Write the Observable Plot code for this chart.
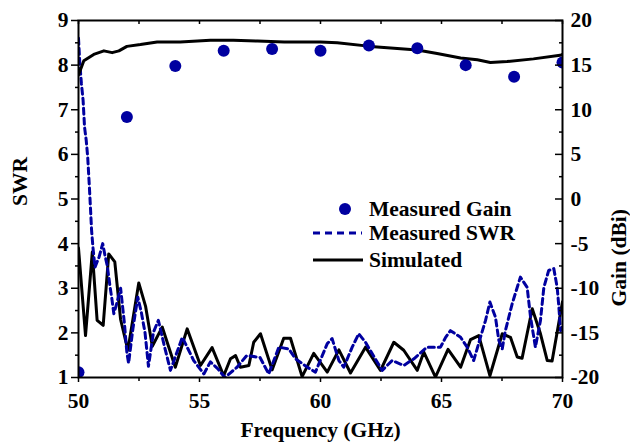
<!DOCTYPE html>
<html><head><meta charset="utf-8">
<script src="https://cdn.jsdelivr.net/npm/d3@7"></script>
<script src="https://cdn.jsdelivr.net/npm/@observablehq/plot@0.6"></script>
<style>
body{margin:0;background:#fff}
#chart svg, #chart svg text{font-family:'Liberation Serif','Times New Roman',serif;font-weight:bold}
</style>
</head><body><div id="chart"></div>
<script>
// Measured gain (dBi, right axis)
const gainMeasFreq = [50, 52, 54, 56, 58, 60, 62, 64, 66, 68, 70];
const gainMeas = [-19.4, 9.2, 14.9, 16.6, 16.8, 16.6, 17.2, 16.9, 15.0, 13.7, 15.3];

// Simulated gain (dBi, right axis)
const simGainFreq = [50.0, 50.22, 50.63, 51.05, 51.39, 51.67, 52.0, 52.56, 53.25, 54.2, 55.45, 56.4, 57.4, 58.5, 59.3, 60.0, 60.69, 62.07, 64.0, 64.82, 65.79, 66.48, 67.02, 67.71, 68.8, 69.9, 70.0];
const simGain = [13.9, 15.5, 16.2, 16.6, 16.4, 16.6, 17.1, 17.3, 17.6, 17.6, 17.8, 17.8, 17.7, 17.6, 17.6, 17.6, 17.5, 17.1, 16.7, 16.3, 15.8, 15.6, 15.3, 15.4, 15.7, 16.1, 16.2];

// Simulated SWR (left axis)
const simSwrFreq = [50.0, 50.29, 50.57, 50.77, 51.02, 51.25, 51.5, 51.74, 52.04, 52.49, 52.77, 53.05, 53.46, 54.0, 54.49, 55.04, 55.52, 56.0, 56.28, 56.49, 56.69, 57.04, 57.24, 57.52, 58.0, 58.48, 58.76, 59.24, 59.72, 60.28, 60.76, 61.24, 61.86, 62.48, 63.03, 63.44, 64.0, 64.27, 64.75, 65.27, 65.79, 66.2, 66.54, 67.0, 67.51, 67.85, 68.13, 68.33, 68.75, 69.09, 69.37, 69.57, 70.0];
const simSwr = [3.9, 1.94, 3.81, 2.28, 2.17, 3.77, 3.59, 2.3, 1.61, 3.12, 2.6, 1.7, 2.13, 1.23, 2.09, 1.27, 1.67, 1.04, 1.42, 1.49, 1.23, 1.27, 1.79, 1.98, 1.17, 1.88, 1.88, 1.02, 1.54, 1.12, 1.62, 1.1, 1.68, 1.16, 1.79, 1.61, 1.16, 1.57, 1.01, 1.63, 1.23, 1.85, 1.94, 1.04, 1.98, 1.9, 1.46, 1.43, 2.54, 1.98, 1.38, 1.37, 2.7];

// Measured SWR (left axis)
const measSwrFreq = [50.0, 50.05, 50.12, 50.19, 50.25, 50.32, 50.38, 50.45, 50.5, 50.54, 50.6, 50.68, 50.85, 51.0, 51.1, 51.19, 51.3, 51.38, 51.46, 51.6, 51.74, 51.9, 52.0, 52.07, 52.25, 52.45, 52.6, 52.75, 52.89, 53.1, 53.3, 53.55, 53.8, 54.29, 54.76, 55.18, 55.45, 55.75, 56.05, 56.55, 56.95, 57.5, 57.86, 58.28, 58.69, 58.97, 59.4, 59.79, 60.28, 60.48, 60.76, 60.96, 61.31, 61.58, 61.86, 62.14, 62.55, 62.96, 63.44, 63.86, 64.4, 64.96, 65.17, 65.37, 65.79, 66.06, 66.33, 66.61, 66.82, 67.0, 67.23, 67.37, 67.51, 67.64, 67.92, 68.26, 68.54, 68.68, 68.88, 69.09, 69.23, 69.43, 69.64, 69.78, 69.85, 69.92, 70.0];
const measSwr = [8.6, 8.08, 7.59, 7.21, 6.61, 6.31, 5.94, 5.27, 4.74, 4.3, 3.9, 3.47, 3.7, 4.0, 3.72, 3.5, 3.05, 2.76, 2.43, 2.7, 3.0, 2.2, 1.55, 1.32, 2.1, 2.8, 2.45, 2.0, 1.25, 2.02, 2.28, 1.7, 1.16, 1.9, 1.38, 1.08, 1.35, 1.2, 1.0, 1.23, 1.49, 1.45, 1.08, 1.68, 1.64, 1.42, 1.25, 1.12, 1.76, 1.87, 1.38, 1.23, 1.68, 1.98, 1.79, 1.53, 1.16, 1.38, 1.27, 1.42, 1.68, 1.68, 1.9, 2.05, 1.9, 1.68, 1.38, 1.9, 2.28, 2.69, 2.35, 1.83, 1.64, 2.05, 2.65, 3.25, 3.02, 2.35, 1.68, 2.28, 3.02, 3.4, 3.44, 3.02, 2.58, 2.05, 2.17];

// Axis ticks
const xTicks = [50, 55, 60, 65, 70];
const swrTicks = [1, 2, 3, 4, 5, 6, 7, 8, 9];
const gainTicks = [-20, -15, -10, -5, 0, 5, 10, 15, 20];
const legendLabels = ["Measured Gain", "Measured SWR", "Simulated"];

const blue = "#0000a0";
const font = "'Liberation Serif', 'Times New Roman', serif";
const gainToSwr = g => 1 + (g + 20) / 5;   // right axis (-20..20) onto left axis (1..9)
const swrToGain = s => (s - 1) * 5 - 20;

const zip = (xs, ys) => xs.map((x, i) => ({x, y: ys[i]}));
const fmt = d => String(d);

const plot = Plot.plot({
  width: 630, height: 445,
  marginLeft: 78, marginRight: 68, marginTop: 20, marginBottom: 68,
  style: {fontFamily: font, fontSize: "21.5px", fontWeight: "bold", background: "white", color: "black"},
  x: {domain: [50, 70]},
  y: {domain: [1, 9]},
  marks: [
    Plot.line(zip(simSwrFreq, simSwr), {x: "x", y: "y", stroke: "black", strokeWidth: 3, clip: true}),
    Plot.line(zip(measSwrFreq, measSwr), {x: "x", y: "y", stroke: blue, strokeWidth: 3, strokeDasharray: "6,4", clip: true}),
    Plot.line(zip(simGainFreq, simGain), {x: "x", y: d => gainToSwr(d.y), stroke: "black", strokeWidth: 3, clip: true}),
    Plot.dot(zip(gainMeasFreq, gainMeas), {x: "x", y: d => gainToSwr(d.y), r: 6, fill: blue, clip: true}),
    Plot.frame({stroke: "black", strokeWidth: 2}),
    // bottom axis
    Plot.axisX({ticks: xTicks, tickSize: 5, tickPadding: 10, tickFormat: fmt, strokeWidth: 1.5, label: null}),
    Plot.axisX({ticks: d3.range(52.5, 70, 5), tickSize: 4, tickFormat: () => "", strokeWidth: 1.5, label: null}),
    Plot.axisX({anchor: "top", ticks: d3.range(50, 70.01, 2.5), tickSize: -3, tickFormat: () => "", strokeWidth: 1.5, label: null}),
    // left axis
    Plot.axisY({ticks: swrTicks, tickSize: 7, tickPadding: 3, tickFormat: fmt, strokeWidth: 1.5, label: null}),
    Plot.axisY({ticks: d3.range(1.5, 9, 1), tickSize: 3, tickFormat: () => "", strokeWidth: 1.5, label: null}),
    // right axis (gain)
    Plot.axisY({anchor: "right", ticks: gainTicks.map(gainToSwr), tickSize: -8, tickPadding: 16, tickFormat: d => fmt(Math.round(swrToGain(d))), textAnchor: "start", strokeWidth: 1.5, label: null}),
    Plot.axisY({anchor: "right", ticks: d3.range(1.5, 9, 1), tickSize: -4, tickFormat: () => "", strokeWidth: 1.5, label: null}),
    // axis titles
    Plot.text(["Frequency (GHz)"], {frameAnchor: "bottom", dy: 59, fontSize: 21.5, fontWeight: "bold"}),
    Plot.text(["SWR"], {frameAnchor: "left", rotate: -90, dx: -58.5, dy: 7, fontSize: 21.5, fontWeight: "bold"}),
    Plot.text(["Gain (dBi)"], {frameAnchor: "right", rotate: -90, dx: 57, dy: 10, fontSize: 21.5, fontWeight: "bold"})
  ]
});

document.getElementById("chart").appendChild(plot);

// Legend (inside plot area)
const svg = d3.select(plot);
const lg = svg.append("g").attr("font-family", font).attr("font-size", 21.5).attr("font-weight", "bold");
const rows = [209, 233, 260];
lg.append("circle").attr("cx", 345).attr("cy", rows[0]).attr("r", 6).attr("fill", blue);
lg.append("line").attr("x1", 313).attr("x2", 362).attr("y1", rows[1]).attr("y2", rows[1])
  .attr("stroke", blue).attr("stroke-width", 3).attr("stroke-dasharray", "7,5");
lg.append("line").attr("x1", 313).attr("x2", 363).attr("y1", rows[2]).attr("y2", rows[2])
  .attr("stroke", "black").attr("stroke-width", 3);
legendLabels.forEach((t, i) => {
  lg.append("text").attr("x", 369).attr("y", rows[i]).attr("dy", "0.33em")
    .attr("text-anchor", "start").attr("fill", "black").text(t);
});
</script>
</body></html>
